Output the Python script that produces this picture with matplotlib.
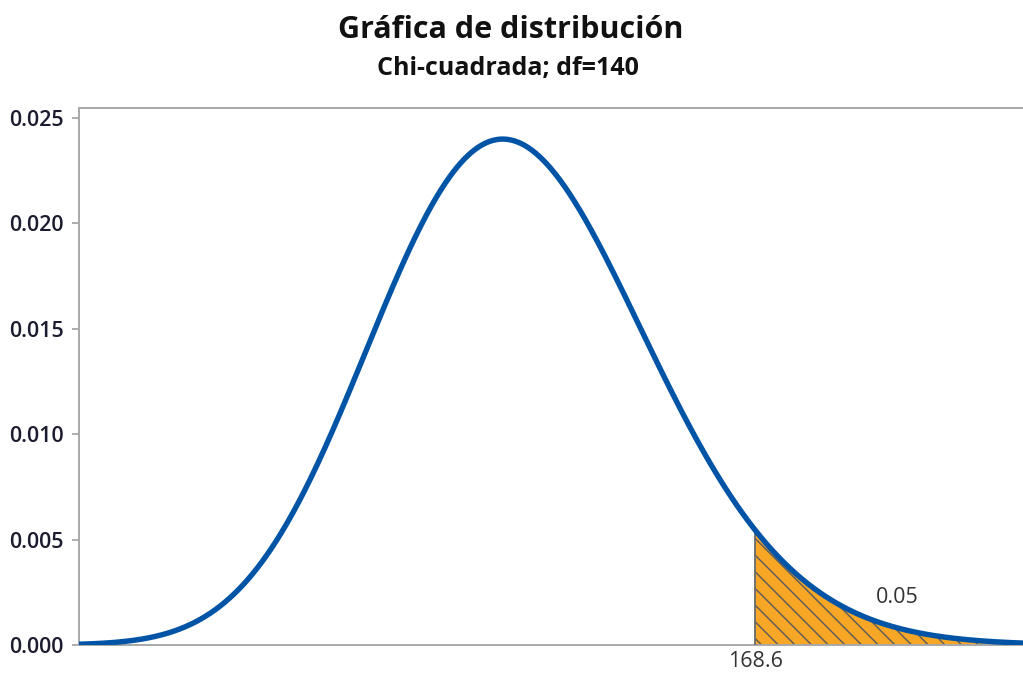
import math
import numpy as np
import matplotlib
matplotlib.use("Agg")
import matplotlib.pyplot as plt

# distribution parameters shown on the chart
df = 140
x_crit = 168.6
tail_area = 0.05
x_range = [86.6, 201.1]
y_ticks = [0.000, 0.005, 0.010, 0.015, 0.020, 0.025]

def chi2_pdf(x, k):
    lg = math.lgamma(k / 2.0)
    return np.exp((k / 2.0 - 1) * np.log(x) - x / 2.0 - (k / 2.0) * math.log(2) - lg)

plt.rcParams['font.family'] = ['Open Sans', 'DejaVu Sans']
plt.rcParams['hatch.color'] = '#5a5a5a'
plt.rcParams['hatch.linewidth'] = 1.0

x = np.linspace(x_range[0], x_range[1], 800)
y = chi2_pdf(x, df)

fig = plt.figure(figsize=(10.23, 6.75), dpi=100)
ax = fig.add_axes([0.0772, 0.0444, 0.9228, 0.796])

xs = x[x >= x_crit]
xs = np.concatenate([[x_crit], xs])
ys = chi2_pdf(xs, df)
ax.fill_between(xs, 0, ys, facecolor='#F7A625', edgecolor='none', hatch='\\\\', zorder=2)
ax.plot([x_crit, x_crit], [0, chi2_pdf(np.array([x_crit]), df)[0]], color='#6a6a6a', lw=1.3, zorder=3)
ax.plot(x, y, color='#0054A6', lw=3.9, zorder=4, solid_capstyle='butt')

ax.set_xlim(x_range)
ax.set_ylim(0, 0.02547)
ax.set_yticks(y_ticks)
ax.set_yticklabels([f"{v:.3f}" for v in y_ticks], fontsize=15.5, fontweight='semibold', color='#1c1c30')
ax.set_xticks([x_crit])
ax.set_xticklabels([f"{x_crit}"], fontsize=15.5, color='#333333')
ax.tick_params(axis='x', length=0, pad=4)
ax.tick_params(axis='y', length=5, width=1.2, color='#a0a0a0', pad=6)

for s in ['left', 'top', 'bottom']:
    ax.spines[s].set_color('#a8a8a8')
    ax.spines[s].set_linewidth(1.4)
ax.spines['right'].set_visible(False)

ax.text(185.9, 0.00223, f"{tail_area}", fontsize=15.5, color='#333333', ha='center', va='center')

fig.text(0.4995, 0.955, "Gráfica de distribución", fontsize=22, fontweight='bold',
         color='#111111', ha='center', va='center')
fig.text(0.4966, 0.899, f"Chi-cuadrada; df={df}", fontsize=18, fontweight='bold',
         color='#111111', ha='center', va='center')

fig.savefig("out.png", dpi=100)
